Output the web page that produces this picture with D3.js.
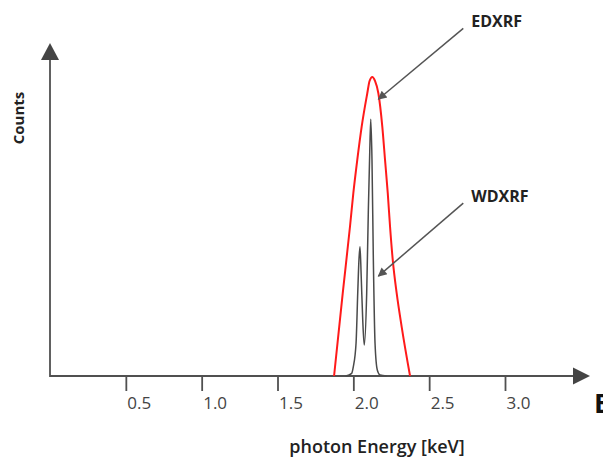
<!DOCTYPE html>
<html>
<head>
<meta charset="utf-8">
<script src="https://cdn.jsdelivr.net/npm/d3@7"></script>
<style>
  html, body { margin: 0; padding: 0; background: #fff; }
  svg { display: block; }
</style>
</head>
<body>
<svg id="chart" width="603" height="459"></svg>
<script>
// Energy (keV) and relative counts of the EDXRF line (broad peak)
const edxrfEnergy = [1.873, 1.930, 1.978, 2.000, 2.026, 2.055, 2.092, 2.107, 2.125, 2.143, 2.165, 2.191, 2.209, 2.227, 2.242, 2.260, 2.286, 2.319, 2.374];
const edxrfCounts = [0, 24.8, 44.9, 54.9, 64.9, 74.9, 84.9, 88.6, 89.8, 88.6, 84.9, 74.9, 64.9, 54.9, 44.9, 34.8, 24.8, 14.7, 0];

// Energy (keV) and relative counts of the WDXRF lines (two resolved peaks)
const wdxrfEnergy = [1.95, 1.989, 2.000, 2.018, 2.029, 2.037, 2.044, 2.052, 2.062, 2.072, 2.088, 2.099, 2.108, 2.115, 2.123, 2.132, 2.143, 2.158, 2.176, 2.22];
const wdxrfCounts = [0, 0.8, 2.8, 9.9, 24.9, 34.8, 38.8, 29.8, 16.8, 9.3, 24.8, 49.8, 66.9, 77.1, 64.9, 34.8, 9.9, 1.8, 0.3, 0];

// Axis ticks
const tickValues = [0.5, 1.0, 1.5, 2.0, 2.5, 3.0];
const tickLabels = ["0.5", "1.0", "1.5", "2.0", "2.5", "3.0"];

// Callouts: label, arrow tail and arrow tip in (keV, counts)
const calloutLabels = ["EDXRF", "WDXRF"];
const calloutTail = [[2.725, 104.4], [2.725, 51.9]];
const calloutTip = [[2.165, 83.1], [2.165, 30.0]];

const svg = d3.select("#chart");
const axisColor = "#505050";

const x = d3.scaleLinear().domain([0, 3]).range([50, 505]);
const y = d3.scaleLinear().domain([0, 100]).range([376, 43]);

const defs = svg.append("defs");
defs.append("marker")
  .attr("id", "head")
  .attr("viewBox", "0 0 10 10")
  .attr("refX", 9).attr("refY", 5)
  .attr("markerWidth", 7).attr("markerHeight", 6)
  .attr("markerUnits", "strokeWidth")
  .attr("orient", "auto")
  .append("path").attr("d", "M0,0 L10,5 L0,10 z").attr("fill", "#555");

// x axis with ticks and left-aligned labels
const xAxis = d3.axisBottom(x)
  .tickValues(tickValues)
  .tickFormat((d, i) => tickLabels[i])
  .tickSizeInner(15).tickSizeOuter(0);

const gx = svg.append("g").attr("transform", `translate(0,${y(0)})`).call(xAxis);
gx.select(".domain").remove();
gx.selectAll(".tick line").attr("stroke", axisColor).attr("stroke-width", 1.8);
gx.selectAll(".tick text")
  .attr("text-anchor", "start")
  .attr("x", 1).attr("y", 33).attr("dy", 0)
  .attr("fill", "#444")
  .style("font-family", "'Open Sans', sans-serif")
  .style("font-size", "17px");

// axis lines with arrow heads
const x0 = x(0), yBase = y(0), yTop = y(100);
svg.append("line")
  .attr("x1", x0).attr("y1", yBase).attr("x2", 575).attr("y2", yBase)
  .attr("stroke", axisColor).attr("stroke-width", 1.8);
svg.append("path")
  .attr("d", `M573,${yBase - 8.5} L590,${yBase} L573,${yBase + 8.5} Z`)
  .attr("fill", "#444");
svg.append("line")
  .attr("x1", x0).attr("y1", yBase + 1).attr("x2", x0).attr("y2", yTop + 15)
  .attr("stroke", axisColor).attr("stroke-width", 1.8);
svg.append("path")
  .attr("d", `M${x0 - 9},${yTop + 17} L${x0},${yTop} L${x0 + 9},${yTop + 17} Z`)
  .attr("fill", "#444");

// spectra
const line = d3.line()
  .x(d => x(d[0])).y(d => y(d[1]))
  .curve(d3.curveMonotoneX);

svg.append("path")
  .datum(wdxrfEnergy.map((e, i) => [e, wdxrfCounts[i]]))
  .attr("d", line)
  .attr("fill", "none").attr("stroke", "#4a4a4a").attr("stroke-width", 1.5);

svg.append("path")
  .datum(edxrfEnergy.map((e, i) => [e, edxrfCounts[i]]))
  .attr("d", line)
  .attr("fill", "none").attr("stroke", "#ff1a1a").attr("stroke-width", 2);

// callouts
calloutLabels.forEach((label, i) => {
  svg.append("line")
    .attr("x1", x(calloutTail[i][0])).attr("y1", y(calloutTail[i][1]))
    .attr("x2", x(calloutTip[i][0])).attr("y2", y(calloutTip[i][1]))
    .attr("stroke", "#555").attr("stroke-width", 1.5)
    .attr("marker-end", "url(#head)");
  svg.append("text")
    .attr("x", x(calloutTail[i][0]) + 8)
    .attr("y", y(calloutTail[i][1]) - 1)
    .attr("fill", "#222")
    .style("font-family", "'Open Sans', sans-serif")
    .style("font-weight", "bold")
    .style("font-size", "16px")
    .text(label);
});

// axis titles
svg.append("text")
  .attr("transform", `translate(24,118) rotate(-90)`)
  .attr("text-anchor", "middle")
  .attr("fill", "#222")
  .style("font-family", "'Open Sans', sans-serif")
  .style("font-weight", "bold")
  .style("font-size", "15px")
  .text("Counts");

svg.append("text")
  .attr("x", 377).attr("y", 453)
  .attr("text-anchor", "middle")
  .attr("fill", "#222")
  .style("font-family", "'Open Sans', sans-serif")
  .style("font-weight", "600")
  .style("font-size", "18px")
  .text("photon Energy [keV]");

svg.append("text")
  .attr("x", 594).attr("y", 413)
  .attr("fill", "#111")
  .style("font-family", "'Open Sans', sans-serif")
  .style("font-weight", "bold")
  .style("font-size", "27px")
  .text("E");
</script>
</body>
</html>
